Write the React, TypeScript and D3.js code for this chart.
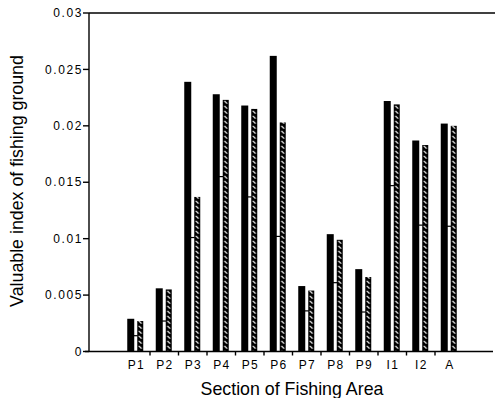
import { useEffect, useRef } from 'react';
import * as d3 from 'd3';

// Dados
const categories = ['P1', 'P2', 'P3', 'P4', 'P5', 'P6', 'P7', 'P8', 'P9', 'I1', 'I2', 'A'];
const solidValues = [0.0029, 0.0056, 0.0239, 0.0228, 0.0218, 0.0262, 0.0058, 0.0104, 0.0073, 0.0222, 0.0187, 0.0202];
const hatchedValues = [0.0027, 0.0055, 0.0137, 0.0223, 0.0215, 0.0203, 0.0054, 0.0099, 0.0066, 0.0219, 0.0183, 0.0200];
const midValues = [0.0014, 0.0027, 0.0101, 0.0155, 0.0137, 0.0102, 0.0036, 0.0061, 0.0035, 0.0147, 0.0112, 0.0111];
const yTicks = [0, 0.005, 0.01, 0.015, 0.02, 0.025, 0.03];
const yTickLabels = ['0', '0.005', '0.01', '0.015', '0.02', '0.025', '0.03'];

const WIDTH = 495;
const HEIGHT = 398;
const FONT = '"Liberation Sans", Arial, Helvetica, sans-serif';

export default function App() {
  const svgRef = useRef<SVGSVGElement | null>(null);

  useEffect(() => {
    if (!svgRef.current) return;
    const svg = d3.select(svgRef.current);
    svg.selectAll('*').remove();

    const left = 89;
    const top = 13;
    const bottom = 351.5;
    const right = 493;

    const x = d3.scaleBand<string>().domain(categories).range([121.5, 463.5]);
    const y = d3.scaleLinear().domain([0, 0.03]).range([bottom, top]);

    const bw = x.bandwidth();
    const solidW = 7;
    const hatchW = 6;
    const solidX = (i: number) => (x(categories[i]) as number) + bw / 2 - 8.5;
    const hatchX = (i: number) => (x(categories[i]) as number) + bw / 2 + 1.5;

    // Padrões hachurados (um por barra, alinhado à barra)
    const defs = svg.append('defs');
    categories.forEach((c, i) => {
      const p = defs.append('pattern')
        .attr('id', `hatch-${i}`)
        .attr('patternUnits', 'userSpaceOnUse')
        .attr('x', hatchX(i))
        .attr('y', 0)
        .attr('width', hatchW)
        .attr('height', 5);
      p.append('rect').attr('width', hatchW).attr('height', 5).attr('fill', '#000');
      p.append('line')
        .attr('x1', 1.6).attr('y1', 0.8)
        .attr('x2', 4.4).attr('y2', 3.6)
        .attr('stroke', '#fff')
        .attr('stroke-width', 1.2);
    });

    const g = svg.append('g');

    // Barras pretas
    g.selectAll('rect.solid')
      .data(solidValues)
      .join('rect')
      .attr('class', 'solid')
      .attr('x', (d, i) => solidX(i))
      .attr('y', d => y(d))
      .attr('width', solidW)
      .attr('height', d => bottom - y(d))
      .attr('fill', '#000');

    // Barras hachuradas
    g.selectAll('rect.hatch')
      .data(hatchedValues)
      .join('rect')
      .attr('class', 'hatch')
      .attr('x', (d, i) => hatchX(i))
      .attr('y', d => y(d))
      .attr('width', hatchW)
      .attr('height', d => bottom - y(d))
      .attr('fill', (d, i) => `url(#hatch-${i})`);

    // Traços intermediários
    g.selectAll('line.mid')
      .data(midValues)
      .join('line')
      .attr('class', 'mid')
      .attr('x1', (d, i) => solidX(i) + solidW / 2)
      .attr('x2', (d, i) => hatchX(i) + 0.5)
      .attr('y1', d => y(d))
      .attr('y2', d => y(d))
      .attr('stroke', '#000')
      .attr('stroke-width', 1.2);

    // Eixos
    const axisG = svg.append('g').attr('stroke', '#000').attr('stroke-width', 1.4);
    axisG.append('line').attr('x1', left).attr('x2', left).attr('y1', top).attr('y2', bottom);
    axisG.append('line').attr('x1', left).attr('x2', WIDTH).attr('y1', top).attr('y2', top);
    axisG.append('line').attr('x1', left - 4).attr('x2', right).attr('y1', bottom).attr('y2', bottom);

    // Ticks Y
    axisG.selectAll('line.ytick')
      .data(yTicks)
      .join('line')
      .attr('class', 'ytick')
      .attr('x1', left - 6)
      .attr('x2', left)
      .attr('y1', d => y(d))
      .attr('y2', d => y(d));

    svg.append('g')
      .selectAll('text')
      .data(yTicks)
      .join('text')
      .attr('x', 83)
      .attr('y', d => y(d))
      .attr('dy', '0.35em')
      .attr('text-anchor', 'end')
      .attr('font-family', FONT)
      .attr('font-size', 12)
      .attr('letter-spacing', 1.6)
      .text((d, i) => yTickLabels[i]);

    // Ticks X (entre categorias)
    axisG.selectAll('line.xtick')
      .data(categories.slice(1))
      .join('line')
      .attr('class', 'xtick')
      .attr('x1', d => x(d) as number)
      .attr('x2', d => x(d) as number)
      .attr('y1', bottom)
      .attr('y2', bottom + 4);

    svg.append('g')
      .selectAll('text')
      .data(categories)
      .join('text')
      .attr('x', d => (x(d) as number) + bw / 2 + 0.7)
      .attr('y', bottom + 17)
      .attr('text-anchor', 'middle')
      .attr('font-family', FONT)
      .attr('font-size', 12)
      .attr('letter-spacing', 1.4)
      .text(d => d);

    // Títulos
    svg.append('text')
      .attr('x', 292)
      .attr('y', 394.5)
      .attr('text-anchor', 'middle')
      .attr('font-family', FONT)
      .attr('font-size', 17.8)
      .text('Section of Fishing Area');

    svg.append('text')
      .attr('transform', `translate(23,181) rotate(-90)`)
      .attr('text-anchor', 'middle')
      .attr('font-family', FONT)
      .attr('font-size', 17.8)
      .text('Valuable index of fishing ground');
  }, []);

  return (
    <svg
      ref={svgRef}
      width={WIDTH}
      height={HEIGHT}
      style={{ position: 'absolute', left: 0, top: 0, background: '#fff' }}
    />
  );
}
